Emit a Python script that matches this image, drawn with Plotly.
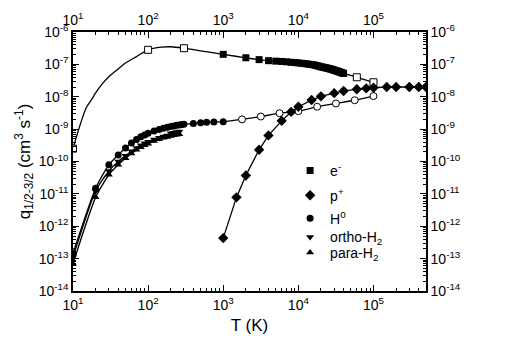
import plotly.graph_objects as go

# ---------------------------------------------------------------------------
# Data (T in K, q in cm^3 s^-1)
# ---------------------------------------------------------------------------
# electrons: fitted curve below 1000 K, computed points above
e_fit_T = [10, 12, 15, 18, 20, 25, 30, 40, 50, 70, 100, 150, 200, 300, 500, 1000]
e_fit_q = [2.5e-10, 1.05e-9, 4.6e-9, 8.7e-9, 1.32e-8, 2.63e-8, 4.17e-8, 7.24e-8,
           1.10e-7, 1.74e-7, 2.82e-7, 3.39e-7, 3.5e-7, 3.16e-7, 2.63e-7, 2.04e-7]
e_open_T = [10, 100, 300, 60000, 100000]
e_open_q = [2.5e-10, 2.82e-7, 3.16e-7, 4.0e-8, 2.8e-8]
e_T = [1000, 2000, 3000, 4000, 5000, 6000, 7000, 8000, 9000, 10000,
       11000, 12000, 13000, 14000, 15000, 16000, 17000, 18000, 19000, 20000,
       21000, 22000, 23000, 24000, 25000, 26000, 27000, 28000, 29000, 30000,
       31000, 32000, 33000, 34000, 35000, 36000, 37000, 38000, 39000, 40000]
e_q = [2.04e-7, 1.6e-7, 1.4e-7, 1.3e-7, 1.26e-7, 1.23e-7, 1.20e-7, 1.16e-7, 1.135e-7, 1.11e-7,
       1.08e-7, 1.06e-7, 1.035e-7, 1.01e-7, 9.89e-8, 9.66e-8, 9.33e-8, 9.02e-8, 8.71e-8, 8.41e-8,
       8.22e-8, 8.04e-8, 7.85e-8, 7.67e-8, 7.50e-8, 7.33e-8, 7.16e-8, 7.00e-8, 6.84e-8, 6.61e-8,
       6.46e-8, 6.31e-8, 6.17e-8, 6.03e-8, 5.89e-8, 5.75e-8, 5.62e-8, 5.50e-8, 5.37e-8, 5.25e-8]

# protons
p_T = [1000, 1500, 2000, 3000, 4000, 6000, 8000, 10000, 15000, 20000, 30000, 40000,
       60000, 80000, 100000, 150000, 200000, 300000, 400000, 500000]
p_q = [4.3e-13, 7.8e-12, 3.7e-11, 2.3e-10, 6.4e-10, 1.8e-9, 3.4e-9, 4.9e-9, 7.9e-9, 1.03e-8,
       1.29e-8, 1.51e-8, 1.7e-8, 1.82e-8, 1.9e-8, 2.0e-8, 2.0e-8, 2.0e-8, 2.0e-8, 2.0e-8]

# atomic hydrogen: filled = computed, open = extrapolated
h_T = [10, 20, 30, 40, 50, 60, 70, 80, 90, 100, 120, 140, 160, 180, 200,
       220, 240, 260, 280, 300, 400, 500, 600, 750, 1000]
h_q = [1.45e-13, 1.5e-11, 7.9e-11, 1.6e-10, 2.6e-10, 3.7e-10, 4.8e-10, 5.8e-10, 6.6e-10, 7.4e-10,
       8.7e-10, 9.8e-10, 1.07e-9, 1.15e-9, 1.2e-9, 1.26e-9, 1.32e-9, 1.35e-9, 1.38e-9, 1.41e-9,
       1.48e-9, 1.58e-9, 1.62e-9, 1.66e-9, 1.7e-9]
h_open_T = [1778, 3162, 5623, 10000, 17783, 31623, 56234, 100000]
h_open_q = [2.0e-9, 2.45e-9, 3.1e-9, 3.6e-9, 4.9e-9, 6.2e-9, 7.8e-9, 1.05e-8]

# molecular hydrogen
h2_T = [10, 20, 30, 40, 50, 60, 70, 80, 90, 100, 120, 140, 160, 180, 200, 220, 240, 260]
ortho_q = [1.1e-13, 1.23e-11, 5.1e-11, 1.0e-10, 1.51e-10, 2.09e-10, 2.63e-10, 3.16e-10, 3.63e-10,
           4.07e-10, 4.79e-10, 5.37e-10, 5.89e-10, 6.31e-10, 7.4e-10, 7.76e-10, 8.13e-10, 8.51e-10]
para_q = [7.0e-14, 7.8e-12, 3.9e-11, 7.9e-11, 1.26e-10, 1.78e-10, 2.29e-10, 2.75e-10, 3.16e-10,
          3.55e-10, 4.27e-10, 4.9e-10, 5.37e-10, 5.75e-10, 6.17e-10, 6.46e-10, 6.76e-10, 6.92e-10]

x_ticks = [10, 100, 1000, 10000, 100000]
x_labels = ["10<sup>1</sup>", "10<sup>2</sup>", "10<sup>3</sup>", "10<sup>4</sup>", "10<sup>5</sup>"]
y_ticks = [1e-14, 1e-13, 1e-12, 1e-11, 1e-10, 1e-9, 1e-8, 1e-7, 1e-6]
y_labels = ["10<sup>-14</sup>", "10<sup>-13</sup>", "10<sup>-12</sup>", "10<sup>-11</sup>",
            "10<sup>-10</sup>", "10<sup>-9</sup>", "10<sup>-8</sup>", "10<sup>-7</sup>",
            "10<sup>-6</sup>"]

FONT = "Liberation Sans, Arial, sans-serif"
BLACK = "black"

fig = go.Figure()

# --- lines ---------------------------------------------------------------
fig.add_trace(go.Scatter(x=e_fit_T + e_T[1:] + e_open_T[3:], y=e_fit_q + e_q[1:] + e_open_q[3:],
                         mode="lines", line=dict(color=BLACK, width=1.3, shape="spline", smoothing=0.8),
                         showlegend=False, hoverinfo="skip"))
fig.add_trace(go.Scatter(x=p_T, y=p_q, mode="lines", line=dict(color=BLACK, width=1.3),
                         showlegend=False, hoverinfo="skip"))
fig.add_trace(go.Scatter(x=h_T + h_open_T, y=h_q + h_open_q, mode="lines",
                         line=dict(color=BLACK, width=1.3, shape="spline", smoothing=0.6),
                         showlegend=False, hoverinfo="skip"))
fig.add_trace(go.Scatter(x=h2_T, y=ortho_q, mode="lines",
                         line=dict(color=BLACK, width=1.3, shape="spline", smoothing=0.6),
                         showlegend=False, hoverinfo="skip"))
fig.add_trace(go.Scatter(x=h2_T, y=para_q, mode="lines",
                         line=dict(color=BLACK, width=1.3, shape="spline", smoothing=0.6),
                         showlegend=False, hoverinfo="skip"))

# --- open markers (no legend) -----------------------------------------
fig.add_trace(go.Scatter(x=e_open_T, y=e_open_q, mode="markers",
                         marker=dict(symbol="square", size=7, color="white",
                                     line=dict(color=BLACK, width=1)),
                         showlegend=False))
fig.add_trace(go.Scatter(x=h_open_T, y=h_open_q, mode="markers",
                         marker=dict(symbol="circle", size=7, color="white",
                                     line=dict(color=BLACK, width=1)),
                         showlegend=False))

# --- filled markers, each with its own legend box so the spacing can follow the original
fig.add_trace(go.Scatter(x=e_T, y=e_q, mode="markers", name="e<sup>-</sup>", legend="legend",
                         marker=dict(symbol="square", size=7, color=BLACK)))
fig.add_trace(go.Scatter(x=p_T, y=p_q, mode="markers", name="p<sup>+</sup>", legend="legend2",
                         marker=dict(symbol="diamond", size=8, color=BLACK)))
fig.add_trace(go.Scatter(x=h_T, y=h_q, mode="markers", name="H<sup>0</sup>", legend="legend3",
                         marker=dict(symbol="circle", size=7, color=BLACK)))
fig.add_trace(go.Scatter(x=h2_T, y=ortho_q, mode="markers", name="ortho-H<sub>2</sub>",
                         legend="legend4",
                         marker=dict(symbol="triangle-down", size=7, color=BLACK)))
fig.add_trace(go.Scatter(x=h2_T, y=para_q, mode="markers", name="para-H<sub>2</sub>",
                         legend="legend5",
                         marker=dict(symbol="triangle-up", size=7, color=BLACK)))

# invisible trace so the top / right axes get drawn
fig.add_trace(go.Scatter(x=[100], y=[1e-10], xaxis="x2", yaxis="y2", mode="markers",
                         marker=dict(opacity=0), showlegend=False, hoverinfo="skip"))

x_minor = [m * 10 ** d for d in range(1, 6) for m in range(2, 10)]
y_minor = [m * 10.0 ** d for d in range(-14, -6) for m in range(2, 10)]

axis_common = dict(showline=True, linecolor=BLACK, linewidth=1.5, ticks="inside",
                   ticklen=6, tickwidth=1.2, tickcolor=BLACK, showgrid=False, zeroline=False,
                   automargin=False, tickfont=dict(family=FONT, size=14, color=BLACK))

x_axis = dict(axis_common, type="log", range=[1, 5.699], tickmode="array",
              tickvals=x_ticks, ticktext=x_labels,
              minor=dict(tickmode="array", tickvals=x_minor, ticks="inside", ticklen=3,
                         tickcolor=BLACK, showgrid=False))
y_axis = dict(axis_common, type="log", range=[-14, -6], tickmode="array",
              tickvals=y_ticks, ticktext=y_labels,
              minor=dict(tickmode="array", tickvals=y_minor, ticks="inside", ticklen=3,
                         tickcolor=BLACK, showgrid=False))


def legend_box(y):
    return dict(x=0.615, y=y, xanchor="left", yanchor="middle", bgcolor="rgba(0,0,0,0)",
                font=dict(family=FONT, size=14), itemwidth=30)


fig.update_layout(
    width=518, height=361,
    autosize=False,
    margin=dict(l=65, r=100, t=24, b=78, autoexpand=False),
    paper_bgcolor="white", plot_bgcolor="white",
    font=dict(family=FONT, size=14, color=BLACK),
    xaxis=dict(x_axis, title=dict(text="T (K)", font=dict(family=FONT, size=17), standoff=8)),
    yaxis=dict(y_axis, title=dict(text="q<sub>1/2-3/2</sub> (cm<sup>3</sup> s<sup>-1</sup>)",
                                  font=dict(family=FONT, size=17), standoff=4)),
    xaxis2=dict(x_axis, overlaying="x", side="top", anchor="y"),
    yaxis2=dict(y_axis, overlaying="y", side="right", anchor="x"),
    legend=legend_box(0.464),
    legend2=legend_box(0.368),
    legend3=legend_box(0.279),
    legend4=legend_box(0.207),
    legend5=legend_box(0.147),
    showlegend=True,
)

fig.write_html("out.html")
